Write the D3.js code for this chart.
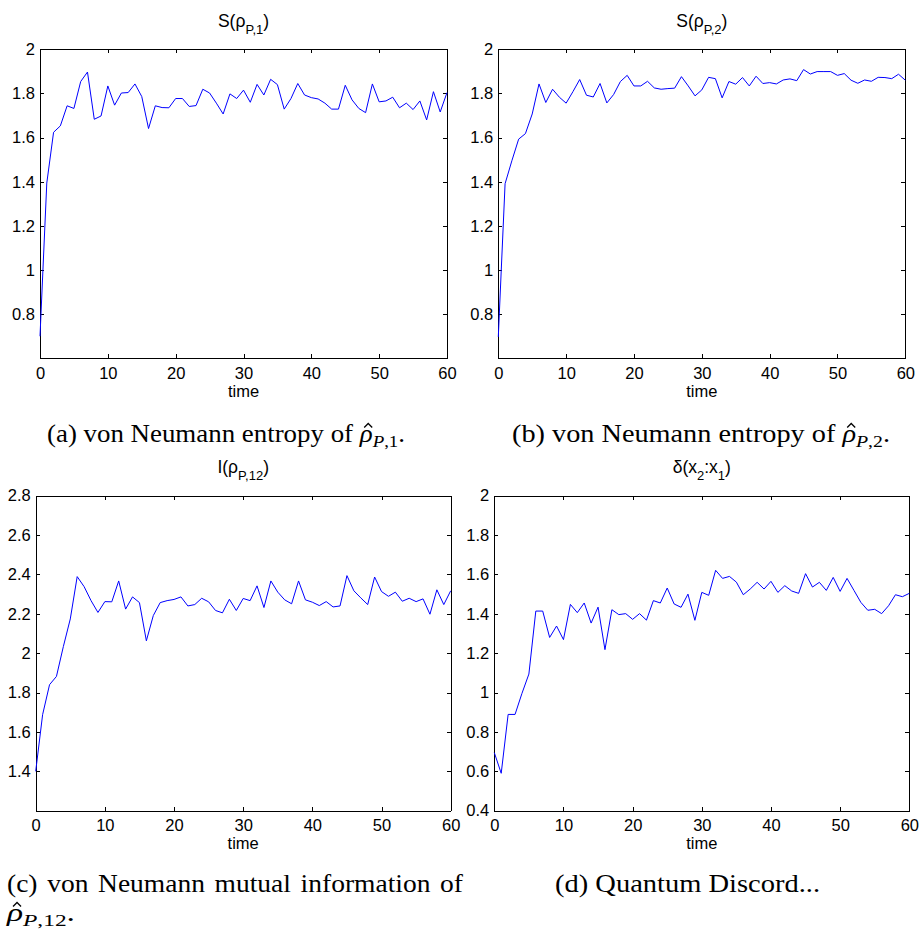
<!DOCTYPE html>
<html><head><meta charset="utf-8">
<script src="https://cdn.jsdelivr.net/npm/d3@7"></script>
<style>body{margin:0;background:#fff} svg{display:block}</style>
</head><body><svg id="c" width="919" height="931"></svg>
<script>
// ---------------- data ----------------
const time = [0,1,2,3,4,5,6,7,8,9,10,11,12,13,14,15,16,17,18,19,20,21,22,23,24,25,26,27,28,29,30,
  31,32,33,34,35,36,37,38,39,40,41,42,43,44,45,46,47,48,49,50,51,52,53,54,55,56,57,58,59,60];

const entropyP1 = [0.70,1.394,1.624,1.653,1.744,1.732,1.854,1.897,1.683,1.698,
  1.834,1.747,1.802,1.804,1.843,1.786,1.641,1.744,1.736,1.735,
  1.777,1.777,1.741,1.745,1.819,1.802,1.756,1.707,1.798,1.777,
  1.815,1.760,1.841,1.793,1.864,1.840,1.729,1.777,1.845,1.793,
  1.781,1.775,1.756,1.729,1.729,1.837,1.771,1.732,1.713,1.843,
  1.762,1.766,1.783,1.735,1.756,1.727,1.766,1.680,1.808,1.716,1.804];

const entropyP2 = [0.697,1.391,1.495,1.593,1.618,1.707,1.843,1.759,1.819,1.783,
  1.756,1.808,1.863,1.792,1.784,1.845,1.757,1.795,1.854,1.882,
  1.834,1.834,1.855,1.825,1.819,1.822,1.824,1.876,1.834,1.789,
  1.816,1.873,1.867,1.780,1.854,1.842,1.872,1.834,1.878,1.845,
  1.849,1.843,1.861,1.866,1.858,1.908,1.888,1.899,1.899,1.899,
  1.882,1.890,1.860,1.846,1.861,1.855,1.873,1.872,1.867,1.887,1.860];

const mutualInfoP12 = [1.400,1.688,1.840,1.882,2.034,2.174,2.389,2.338,2.267,2.207,
  2.262,2.261,2.367,2.224,2.286,2.257,2.063,2.191,2.257,2.267,
  2.273,2.286,2.240,2.247,2.279,2.261,2.217,2.205,2.274,2.217,
  2.278,2.267,2.342,2.232,2.367,2.310,2.271,2.251,2.367,2.271,
  2.259,2.242,2.262,2.235,2.240,2.394,2.317,2.281,2.247,2.387,
  2.313,2.289,2.310,2.264,2.279,2.262,2.276,2.198,2.322,2.247,2.317];

const discord = [0.695,0.590,0.889,0.889,0.996,1.094,1.414,1.414,1.280,1.338,
  1.269,1.448,1.406,1.455,1.353,1.434,1.218,1.421,1.396,1.401,
  1.372,1.401,1.368,1.467,1.455,1.531,1.450,1.433,1.500,1.367,
  1.509,1.494,1.621,1.580,1.590,1.561,1.497,1.526,1.560,1.526,
  1.565,1.509,1.543,1.516,1.504,1.604,1.536,1.560,1.519,1.585,
  1.514,1.580,1.519,1.458,1.418,1.423,1.401,1.441,1.497,1.487,1.504];

const xTicks = [0,10,20,30,40,50,60];
const yTicksEntropy = [0.8,1,1.2,1.4,1.6,1.8,2];
const yTicksMutual = [1.4,1.6,1.8,2,2.2,2.4,2.6,2.8];
const yTicksDiscord = [0.4,0.6,0.8,1,1.2,1.4,1.6,1.8,2];
const xLabel = "time";

// ---------------- layout ----------------
const svg = d3.select("#c");
const sans = "'Liberation Sans', Arial, Helvetica, sans-serif";
const serif = "'Liberation Serif', 'Times New Roman', serif";
const tickSize = 16.5;

const panels = [
  {values: entropyP1, yDomain:[0.6,2], yTicks: yTicksEntropy, x0:40, x1:447, y0:49.3, y1:358.3,
   title:[{t:"S(ρ"},{t:"P,1",sub:true},{t:")"}]},
  {values: entropyP2, yDomain:[0.6,2], yTicks: yTicksEntropy, x0:498.3, x1:905.3, y0:49.3, y1:358.3,
   title:[{t:"S(ρ"},{t:"P,2",sub:true},{t:")"}]},
  {values: mutualInfoP12, yDomain:[1.2,2.8], yTicks: yTicksMutual, x0:35.7, x1:450.7, y0:495.7, y1:810.7,
   title:[{t:"I(ρ"},{t:"P,12",sub:true},{t:")"}]},
  {values: discord, yDomain:[0.4,2], yTicks: yTicksDiscord, x0:494.3, x1:909.3, y0:495.7, y1:810.7,
   title:[{t:"δ(x"},{t:"2",sub:true},{t:":x"},{t:"1",sub:true},{t:")"}]}
];

const fmt = v => String(+v.toFixed(2));

panels.forEach(p => {
  const x = d3.scaleLinear().domain([0,60]).range([p.x0, p.x1]);
  const y = d3.scaleLinear().domain(p.yDomain).range([p.y1, p.y0]);
  const g = svg.append("g");

  const styleAxis = sel => {
    sel.selectAll("path,line").attr("stroke","#000").attr("stroke-width",1).attr("shape-rendering","crispEdges");
    sel.selectAll("text").attr("fill","#000").attr("font-family",sans).attr("font-size",tickSize);
  };

  g.append("g").attr("transform",`translate(0,${p.y1})`)
    .call(d3.axisBottom(x).tickValues(xTicks).tickFormat(fmt).tickSizeInner(-4).tickSizeOuter(0).tickPadding(8.5))
    .call(styleAxis);
  g.append("g").attr("transform",`translate(0,${p.y0})`)
    .call(d3.axisTop(x).tickValues(xTicks).tickFormat("").tickSizeInner(-4).tickSizeOuter(0))
    .call(styleAxis);
  g.append("g").attr("transform",`translate(${p.x0},0)`)
    .call(d3.axisLeft(y).tickValues(p.yTicks).tickFormat(fmt).tickSizeInner(-4).tickSizeOuter(0).tickPadding(5))
    .call(styleAxis);
  g.append("g").attr("transform",`translate(${p.x1},0)`)
    .call(d3.axisRight(y).tickValues(p.yTicks).tickFormat("").tickSizeInner(-4).tickSizeOuter(0))
    .call(styleAxis);
  g.selectAll(".domain").attr("fill","none");

  const line = d3.line().x((d,i)=>x(time[i])).y(d=>y(d));
  g.append("path").datum(p.values).attr("d",line)
    .attr("fill","none").attr("stroke","#0000ff").attr("stroke-width",1);

  // title
  const tt = g.append("text").attr("x",(p.x0+p.x1)/2).attr("y",p.y0-22.6)
    .attr("text-anchor","middle").attr("font-family",sans).attr("font-size",17.5).attr("fill","#000");
  let inSub=false;
  p.title.forEach(s=>{
    const ts = tt.append("tspan").text(s.t);
    if (s.sub){ ts.attr("font-size",13); if(!inSub){ts.attr("dy",7); inSub=true;} }
    else if (inSub){ ts.attr("dy",-7); inSub=false; }
  });

  // x label
  g.append("text").attr("x",(p.x0+p.x1)/2).attr("y",p.y1+38.5).attr("text-anchor","middle")
    .attr("font-family",sans).attr("font-size",tickSize).attr("fill","#000").text(xLabel);
});

// ---------------- captions ----------------
const capSize = 25;
function caption(x, y, targetW, parts){
  const t = svg.append("text").attr("x",x).attr("y",y).attr("font-family",serif)
    .attr("font-size",capSize).attr("fill","#000");
  let idx=0, hatIdx=-1, inSub=false;
  parts.forEach(p=>{
    const ts = t.append("tspan").text(p.t);
    if (p.it) ts.attr("font-style","italic");
    if (p.sub){ ts.attr("font-size",capSize*0.7); if(!inSub){ts.attr("dy",5); inSub=true;} }
    else if (inSub){ ts.attr("dy",-5); inSub=false; }
    if (p.hat) hatIdx = idx;
    idx += p.t.length;
  });
  if (targetW) t.attr("textLength",targetW).attr("lengthAdjust","spacingAndGlyphs");
  if (hatIdx>=0){
    const e = t.node().getExtentOfChar(hatIdx);
    const cx = e.x + e.width/2 + 2;
    svg.append("path")
      .attr("d",`M${cx-4},${y-14.5}L${cx},${y-18.5}L${cx+4},${y-14.5}`)
      .attr("fill","none").attr("stroke","#000").attr("stroke-width",1.3);
  }
}
caption(47, 442, 358, [{t:"(a) von Neumann entropy of "},{t:"ρ",it:true,hat:true},{t:"P",it:true,sub:true},{t:",1",sub:true},{t:"."}]);
caption(512, 442, 378, [{t:"(b) von Neumann entropy of "},{t:"ρ",it:true,hat:true},{t:"P",it:true,sub:true},{t:",2",sub:true},{t:"."}]);
caption(555, 892, 265, [{t:"(d) Quantum Discord..."}]);

// justified first line of caption (c)
(function(){
  const words = ["(c)","von","Neumann","mutual","information","of"];
  const left = 7, right = 463, yb = 892;
  const nodes = words.map(w => svg.append("text").attr("y",yb).attr("font-family",serif)
    .attr("font-size",capSize).attr("fill","#000").text(w));
  const widths = nodes.map(n => n.node().getComputedTextLength()*1.1);
  nodes.forEach((n,i)=>n.attr("textLength",widths[i]).attr("lengthAdjust","spacingAndGlyphs"));
  const gap = (right-left-d3.sum(widths))/(words.length-1);
  let cx = left;
  nodes.forEach((n,i)=>{ n.attr("x",cx); cx += widths[i]+gap; });
})();
caption(7, 921, 68, [{t:"ρ",it:true,hat:true},{t:"P",it:true,sub:true},{t:",12",sub:true},{t:"."}]);
</script></body></html>
